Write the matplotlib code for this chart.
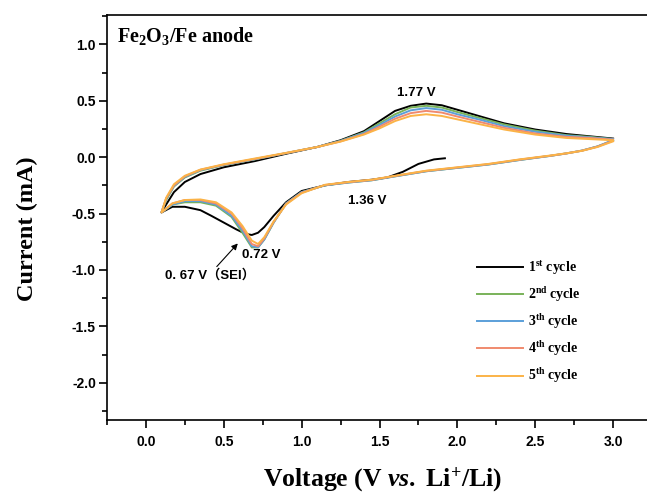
import matplotlib
matplotlib.use('Agg')
import matplotlib.pyplot as plt
from matplotlib.ticker import MultipleLocator

plt.rcParams['axes.unicode_minus'] = False
plt.rcParams['mathtext.fontset'] = 'custom'
plt.rcParams['mathtext.rm'] = 'Liberation Serif:bold'
plt.rcParams['mathtext.bf'] = 'Liberation Serif:bold'
plt.rcParams['mathtext.it'] = 'Liberation Serif:italic:bold'

# scan voltages (V) for the cathodic and anodic sweeps
cath_v = [3.0, 2.9, 2.8, 2.7, 2.6, 2.4, 2.2, 2.0, 1.8, 1.6, 1.45, 1.3, 1.15,
          1.0, 0.9, 0.82, 0.76, 0.72, 0.68, 0.62, 0.55, 0.45, 0.35, 0.25,
          0.17, 0.1]
anod_v = [0.1, 0.13, 0.18, 0.25, 0.35, 0.5, 0.7, 0.9, 1.1, 1.25, 1.4, 1.5,
          1.6, 1.7, 1.8, 1.9, 2.0, 2.15, 2.3, 2.5, 2.7, 2.85, 3.0]

# 1st cycle starts from open circuit voltage
c1_cath_v = [1.92, 1.85, 1.75, 1.65, 1.55, 1.45, 1.3, 1.15, 1.0, 0.9, 0.82,
             0.76, 0.72, 0.68, 0.64, 0.58, 0.5, 0.42, 0.35, 0.25, 0.17, 0.1]
c1_cath_i = [-0.01, -0.02, -0.06, -0.13, -0.18, -0.20, -0.22, -0.25, -0.30,
             -0.40, -0.52, -0.62, -0.67, -0.69, -0.68, -0.64, -0.58, -0.52,
             -0.47, -0.44, -0.44, -0.49]
c1_anod_i = [-0.49, -0.42, -0.31, -0.22, -0.15, -0.09, -0.035, 0.03, 0.09,
             0.15, 0.23, 0.32, 0.41, 0.455, 0.475, 0.46, 0.42, 0.36, 0.30,
             0.245, 0.205, 0.185, 0.165]

c2_cath_i = [0.15, 0.095, 0.058, 0.033, 0.012, -0.025, -0.065, -0.095,
             -0.125, -0.17, -0.205, -0.225, -0.25, -0.31, -0.41, -0.58, -0.73,
             -0.80, -0.80, -0.67, -0.53, -0.43, -0.40, -0.40, -0.42, -0.49]
c2_anod_i = [-0.49, -0.38, -0.26, -0.18, -0.12, -0.07, -0.02, 0.035, 0.09,
             0.145, 0.22, 0.30, 0.38, 0.44, 0.455, 0.44, 0.40, 0.345, 0.29,
             0.235, 0.195, 0.18, 0.16]

c3_cath_i = [0.15, 0.095, 0.058, 0.033, 0.012, -0.025, -0.065, -0.095,
             -0.125, -0.17, -0.205, -0.225, -0.25, -0.31, -0.41, -0.58, -0.73,
             -0.80, -0.79, -0.65, -0.52, -0.42, -0.39, -0.39, -0.42, -0.49]
c3_anod_i = [-0.49, -0.37, -0.255, -0.175, -0.115, -0.068, -0.018, 0.036,
             0.09, 0.143, 0.215, 0.285, 0.36, 0.415, 0.435, 0.42, 0.38, 0.33,
             0.275, 0.225, 0.19, 0.175, 0.16]

c4_cath_i = [0.145, 0.093, 0.057, 0.033, 0.013, -0.022, -0.062, -0.092,
             -0.122, -0.167, -0.202, -0.222, -0.247, -0.315, -0.415, -0.575,
             -0.72, -0.79, -0.77, -0.63, -0.50, -0.41, -0.38, -0.38, -0.41,
             -0.49]
c4_anod_i = [-0.49, -0.365, -0.25, -0.17, -0.112, -0.066, -0.016, 0.036,
             0.09, 0.14, 0.205, 0.27, 0.34, 0.39, 0.41, 0.395, 0.36, 0.31,
             0.26, 0.21, 0.18, 0.17, 0.155]

c5_cath_i = [0.14, 0.09, 0.056, 0.034, 0.015, -0.02, -0.06, -0.09, -0.12,
             -0.165, -0.20, -0.22, -0.245, -0.32, -0.42, -0.57, -0.71, -0.77,
             -0.74, -0.61, -0.49, -0.40, -0.375, -0.38, -0.41, -0.49]
c5_anod_i = [-0.49, -0.36, -0.24, -0.165, -0.11, -0.063, -0.012, 0.038,
             0.09, 0.138, 0.20, 0.255, 0.32, 0.365, 0.38, 0.365, 0.335, 0.29,
             0.245, 0.20, 0.17, 0.16, 0.15]

labels = [r'1$^{\rm st}$ cycle', r'2$^{\rm nd}$ cycle', r'3$^{\rm th}$ cycle',
          r'4$^{\rm th}$ cycle', r'5$^{\rm th}$ cycle']
colors = ['#000000', '#79b259', '#5b9fd9', '#f08a6e', '#fbb347']

cycles = [
    (c1_cath_v + anod_v, c1_cath_i + c1_anod_i),
    (cath_v + anod_v, c2_cath_i + c2_anod_i),
    (cath_v + anod_v, c3_cath_i + c3_anod_i),
    (cath_v + anod_v, c4_cath_i + c4_anod_i),
    (cath_v + anod_v, c5_cath_i + c5_anod_i),
]

fig = plt.figure(figsize=(6.47, 4.97), dpi=100)
ax = fig.add_axes([107 / 647, 77 / 497, 545 / 647, 405 / 497])

for (v, i), c, lab in zip(cycles, colors, labels):
    ax.plot(v, i, color=c, linewidth=1.4, label=lab, solid_joinstyle='round')

ax.set_xlim(-0.25, 3.25)
ax.set_ylim(-2.33, 1.26)
ax.xaxis.set_major_locator(MultipleLocator(0.5))
ax.xaxis.set_minor_locator(MultipleLocator(0.25))
ax.yaxis.set_major_locator(MultipleLocator(0.5))
ax.yaxis.set_minor_locator(MultipleLocator(0.25))
ax.tick_params(which='major', direction='out', length=6, width=1.2)
ax.tick_params(which='minor', direction='out', length=3.5, width=1.2)
ax.tick_params(axis='y', pad=2)
ax.tick_params(axis='x', pad=5)
for sp in ax.spines.values():
    sp.set_linewidth(1.2)
for lbl in ax.get_xticklabels() + ax.get_yticklabels():
    lbl.set_fontfamily('Liberation Sans')
    lbl.set_fontweight('bold')
    lbl.set_fontsize(10)

ax.set_xlabel(r'Voltage (V $\it{vs.}$ Li$^{+}$/Li)', family='Liberation Serif',
              fontweight='bold', fontsize=18.5)
ax.set_ylabel('Current (mA)', family='Liberation Serif', fontweight='bold',
              fontsize=17.5)
ax.xaxis.set_label_coords(0.505, -0.112)
ax.yaxis.set_label_coords(-0.127, 0.472)

ax.text(0.018, 0.975, r'Fe$_2$O$_3$/Fe anode', transform=ax.transAxes,
        family='Liberation Serif', fontweight='bold', fontsize=14.5,
        ha='left', va='top')

sans = dict(family=['Liberation Sans', 'Noto Sans CJK SC'], fontweight='bold',
            fontsize=9.5)
ax.text(1.735, 0.57, '1.77 V', ha='center', va='center', **sans)
ax.text(1.42, -0.39, '1.36 V', ha='center', va='center', **sans)
ax.text(0.74, -0.87, '0.72 V', ha='center', va='center', **sans)
ax.text(0.41, -1.05, '0. 67 V（SEI）', ha='center', va='center', **sans)
ax.annotate('', xy=(0.59, -0.765), xytext=(0.455, -0.97),
            arrowprops=dict(arrowstyle='-|>', color='black', lw=0.8,
                            mutation_scale=9, shrinkA=0, shrinkB=0))

leg = ax.legend(loc='upper left', bbox_to_anchor=(0.656, 0.43), frameon=False,
                prop=dict(family='Liberation Serif', weight='bold', size=10),
                handlelength=3.3, handletextpad=0.4, labelspacing=0.6)

fig.savefig('out.png', dpi=100)
